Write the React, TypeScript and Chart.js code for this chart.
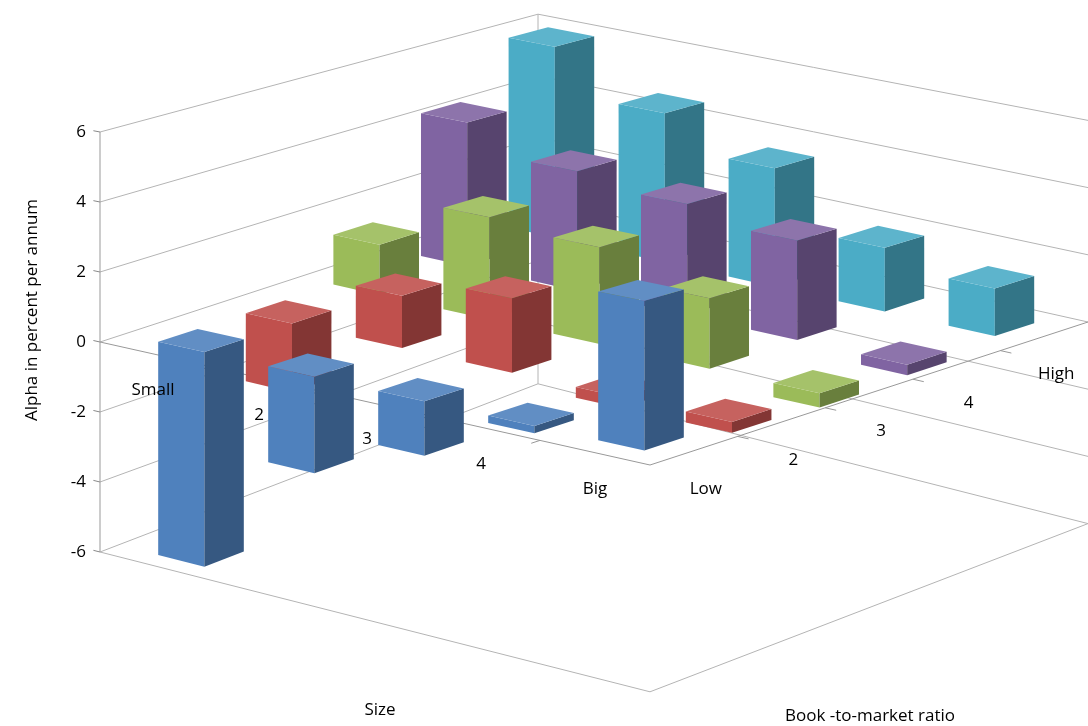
import { useEffect, useRef } from 'react';
import { Chart, registerables } from 'chart.js';

Chart.register(...registerables);

// Size portfolios (front axis) and book-to-market portfolios (depth axis)
const sizeLabels = ['Small', '2', '3', '4', 'Big'];
const bmLabels = ['Low', '2', '3', '4', 'High'];

// Alpha per size portfolio, one array per book-to-market row
const lowAlpha = [-6.1, -2.7, -1.5, -0.2, 4.0];
const bm2Alpha = [-2.0, 1.5, 2.1, -0.3, -0.3];
const bm3Alpha = [1.5, 3.0, 2.8, 2.0, -0.4];
const bm4Alpha = [4.4, 3.6, 3.3, 2.9, -0.3];
const highAlpha = [6.0, 4.6, 3.6, 1.9, 1.4];

const valueTicks = [-6, -4, -2, 0, 2, 4, 6];

const rows = [lowAlpha, bm2Alpha, bm3Alpha, bm4Alpha, highAlpha];
const rowColors = ['#4F81BD', '#C0504D', '#9BBB59', '#8064A2', '#4BACC6'];

const shade = (hex: string, f: number) => {
  const n = parseInt(hex.slice(1), 16);
  const c = [(n >> 16) & 255, (n >> 8) & 255, n & 255].map((v) =>
    Math.max(0, Math.min(255, Math.round(f > 1 ? v + (255 - v) * (f - 1) : v * f)))
  );
  return `rgb(${c[0]},${c[1]},${c[2]})`;
};

const bars3d = {
  id: 'bars3d',
  afterDraw(chart: any) {
    const ctx = chart.ctx as CanvasRenderingContext2D;
    const ys = chart.scales.y;
    const ppu = ys.getPixelForValue(0) - ys.getPixelForValue(1);
    const oy = ys.getPixelForValue(0);
    const P = (u: number, v: number, z: number): [number, number] => [
      100 + u * 550 + v * 438,
      oy + u * 123 - v * 143 - z * ppu * (1 + 0.08 * u - 0.12 * v),
    ];
    const poly = (pts: [number, number][], fill?: string, stroke?: string) => {
      ctx.beginPath();
      pts.forEach((p, i) => (i ? ctx.lineTo(p[0], p[1]) : ctx.moveTo(p[0], p[1])));
      if (fill) { ctx.closePath(); ctx.fillStyle = fill; ctx.fill(); }
      if (stroke) { ctx.strokeStyle = stroke; ctx.stroke(); }
    };
    ctx.save();
    ctx.lineWidth = 1;
    // walls and floor
    const grid = '#b4b4b4';
    valueTicks.forEach((z) => {
      poly([P(0, 0, z), P(0, 1, z), P(1.2, 1, z)], undefined, grid);
      poly([P(0, 0, z), P(-0.012, 0, z)], undefined, '#888');
    });
    poly([P(0, 0, -6), P(0, 0, 6)], undefined, '#999');
    poly([P(0, 1, -6), P(0, 1, 6)], undefined, grid);
    poly([P(0, 0, -6), P(1, 0, -6), P(1, 1.2, -6)], undefined, grid);
    poly([P(0, 0, 0), P(1, 0, 0), P(1, 1.2, 0)], undefined, '#999');
    for (let i = 1; i < 5; i++) {
      poly([P(i / 5, 0, 0), P(i / 5, -0.02, 0)], undefined, '#999');
      poly([P(1, i / 5, 0), P(1.02, i / 5, 0)], undefined, '#999');
    }
    // boxes, far to near
    const boxes: { i: number; j: number; val: number }[] = [];
    rows.forEach((r, j) => r.forEach((val, i) => boxes.push({ i, j, val })));
    boxes.sort((a, b) => b.j - b.i - (a.j - a.i));
    boxes.forEach(({ i, j, val }) => {
      const u0 = (i + 0.5) / 5 - 0.038, u1 = u0 + 0.084;
      const v0 = (j + 0.5) / 5 - 0.045, v1 = v0 + 0.09;
      const zt = Math.max(0, val), zb = Math.min(0, val);
      const c = rowColors[j];
      poly([P(u0, v0, zb), P(u1, v0, zb), P(u1, v0, zt), P(u0, v0, zt)], c);
      poly([P(u1, v0, zb), P(u1, v1, zb), P(u1, v1, zt), P(u1, v0, zt)], shade(c, 0.68));
      poly([P(u0, v0, zt), P(u1, v0, zt), P(u1, v1, zt), P(u0, v1, zt)], shade(c, 1.1));
    });
    // labels
    ctx.fillStyle = '#000';
    ctx.font = '17px "Open Sans"';
    ctx.textAlign = 'right';
    ctx.textBaseline = 'middle';
    valueTicks.forEach((z) => {
      const p = P(0, 0, z);
      ctx.fillText(String(z), p[0] - 14, p[1]);
    });
    ctx.textAlign = 'center';
    const sizeDx = [-2, -6, -8, -4, 0];
    sizeLabels.forEach((l, i) => {
      const p = P((i + 0.5) / 5, 0, 0);
      ctx.fillText(l, p[0] + sizeDx[i], p[1] + 36);
    });
    bmLabels.forEach((l, j) => {
      const p = P(1, (j + 0.5) / 5, 0);
      ctx.fillText(l, p[0] + 12, p[1] + 38);
    });
    ctx.fillText('Size', 380, 710);
    ctx.fillText('Book -to-market ratio', 870, 716);
    ctx.save();
    ctx.translate(32, 310);
    ctx.rotate(-Math.PI / 2);
    ctx.fillText('Alpha in percent per annum', 0, 0);
    ctx.restore();
    ctx.restore();
  },
};

export default function App() {
  const ref = useRef<HTMLCanvasElement>(null);
  useEffect(() => {
    if (!ref.current) return;
    const chart = new Chart(ref.current, {
      type: 'scatter',
      data: { datasets: [{ data: [] }] },
      options: {
        animation: false,
        responsive: true,
        maintainAspectRatio: false,
        layout: { padding: { top: 132, bottom: 174, left: 0, right: 0 } },
        plugins: { legend: { display: false }, tooltip: { enabled: false } },
        scales: {
          x: { display: false, min: 0, max: 1 },
          y: { display: false, min: -6, max: 6 },
        },
      },
      plugins: [bars3d],
    });
    return () => chart.destroy();
  }, []);
  return (
    <div style={{ position: 'fixed', left: 0, top: 0, width: 1088, height: 726, background: '#fff' }}>
      <canvas ref={ref} />
    </div>
  );
}
